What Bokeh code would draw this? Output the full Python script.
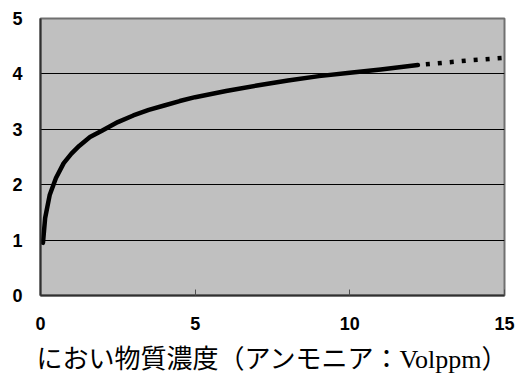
from bokeh.plotting import figure
from bokeh.models import Range1d, FixedTicker
from bokeh.embed import file_html
from bokeh.resources import INLINE

x_solid = [0.08, 0.15, 0.3, 0.5, 0.75, 1.0, 1.25, 1.6, 2.0, 2.5, 3.0, 3.5,
           4.0, 4.5, 5.0, 6.0, 7.0, 8.0, 9.0, 10.0, 11.0, 12.2]
y_solid = [0.95, 1.40, 1.82, 2.12, 2.39, 2.56, 2.70, 2.86, 2.98, 3.13, 3.25, 3.35,
           3.43, 3.51, 3.58, 3.69, 3.79, 3.88, 3.96, 4.02, 4.08, 4.16]
# Extrapolated (dotted) part
x_dotted = [12.2, 13.0, 14.0, 15.0]
y_dotted = [4.16, 4.20, 4.25, 4.29]

x_ticks = [0, 5, 10, 15]
y_ticks = [0, 1, 2, 3, 4, 5]
x_label = "におい物質濃度（アンモニア：Volppm）"

p = figure(width=520, height=376, output_backend="svg", toolbar_location=None,
           x_range=Range1d(0, 15), y_range=Range1d(0, 5),
           min_border_left=40, min_border_right=16, min_border_top=18,
           min_border_bottom=80)
p.background_fill_color = "#C0C0C0"
p.border_fill_color = "white"
p.outline_line_color = "#707070"
p.outline_line_width = 2

p.xgrid.visible = False
p.ygrid.ticker = FixedTicker(ticks=y_ticks)
p.ygrid.grid_line_color = "black"
p.ygrid.grid_line_width = 1

for ax in (p.xaxis[0], p.yaxis[0]):
    ax.major_label_text_font = "Liberation Sans"
    ax.major_label_text_font_style = "bold"
    ax.major_label_text_font_size = "18px"
    ax.major_label_text_color = "black"
    ax.minor_tick_line_color = None
    ax.axis_line_color = "#303030"
    ax.axis_line_width = 2

p.xaxis.ticker = FixedTicker(ticks=x_ticks)
p.xaxis.major_tick_in = 6
p.xaxis.major_tick_out = 0
p.xaxis.major_tick_line_color = "#505050"
p.xaxis.major_label_standoff = 21
p.xaxis.axis_label = x_label
p.xaxis.axis_label_text_font = "'Liberation Serif', 'Noto Sans CJK JP'"
p.xaxis.axis_label_text_font_style = "normal"
p.xaxis.axis_label_text_font_size = "26px"
p.xaxis.axis_label_text_color = "black"
p.xaxis.axis_label_standoff = 12

p.yaxis.ticker = FixedTicker(ticks=y_ticks)
p.yaxis.major_tick_in = 0
p.yaxis.major_tick_out = 0
p.yaxis.major_label_standoff = 18

p.line(x_solid, y_solid, line_color="black", line_width=4.5, line_cap="round",
       line_join="round")
p.line(x_dotted, y_dotted, line_color="black", line_width=4.5, line_dash="4 8",
       line_dash_offset=-8)

open("out.html", "w").write(file_html(p, INLINE))
